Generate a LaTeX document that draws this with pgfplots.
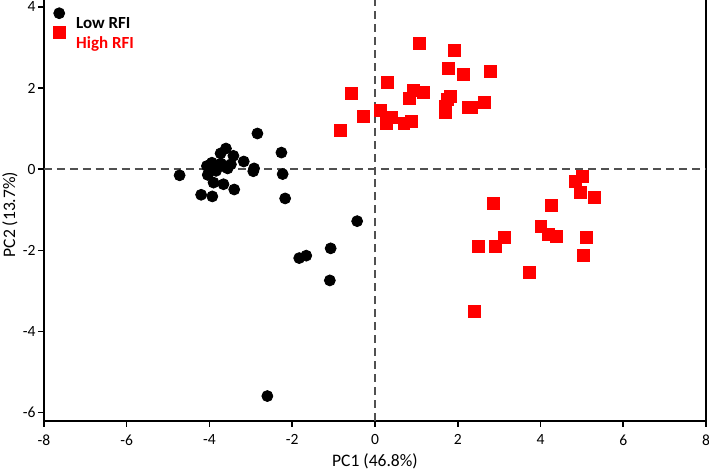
\documentclass[border=0pt]{standalone}
\usepackage{pgfplots}
\pgfplotsset{compat=1.18}
\usepackage{fontspec}
\setmainfont{Carlito}
\usetikzlibrary{calc}
\definecolor{myred}{RGB}{255,0,0}
\definecolor{dashgray}{RGB}{80,80,80}
\begin{document}
\begin{tikzpicture}
\begin{axis}[
  name=ax,
  scale only axis,
  width=332pt, height=211pt,
  xmin=-8, xmax=8, ymin=-6.2, ymax=4.17,
  axis x line=bottom, axis y line=box,
  axis line style={line width=1pt, black, -},
  xtick={-8,-6,...,8}, ytick={-6,-4,...,4},
  ytick pos=left,
  tick align=outside,
  major tick length=3pt,
  tick style={line width=0.8pt, black},
  /pgf/number format/assume math mode=true,
  tick label style={font=\fontsize{7.8}{9}\selectfont},
  yticklabel style={inner xsep=1pt},
  xticklabel style={yshift=-0.5pt},
  label style={font=\fontsize{8.8}{10}\selectfont},
  xlabel={PC1 (46.8\%)}, ylabel={PC2 (13.7\%)},
  xlabel style={at={(axis description cs:0.5,-0.097)}, anchor=center},
  ylabel style={at={(axis description cs:-0.0512,0.49)}, anchor=center},
  legend style={at={(0.006,0.979)}, anchor=north west, draw=none, fill=none,
    font=\fontsize{8.5}{10}\selectfont\bfseries, row sep=-1.5pt, inner sep=2pt,
    /tikz/column 1/.style={column sep=4pt}},
  legend image code/.code={
    \path[draw=none, fill=none] (0pt,-2pt) rectangle (6pt,2pt);
    \draw[#1, overlay] plot coordinates {(3.5pt,5.5pt)};
  },
  legend cell align=left,
  clip=false,
]
\addplot[only marks, mark=*, mark size=2.75pt, black] coordinates {
(-4.72,-0.15) (-2.84,0.88) (-3.60,0.51) (-3.73,0.39) (-3.42,0.33) (-3.17,0.19)
(-3.94,0.16) (-4.06,0.08) (-3.72,0.14) (-3.48,0.12) (-3.56,0.02) (-3.84,-0.04)
(-4.04,-0.14) (-3.62,0.06) (-2.92,0.02) (-2.94,-0.05) (-2.26,0.41) (-2.23,-0.12)
(-3.90,-0.33) (-3.66,-0.37) (-3.40,-0.50) (-4.20,-0.63) (-3.93,-0.67) (-2.17,-0.72)
(-0.43,-1.28) (-1.07,-1.95) (-1.66,-2.13) (-1.83,-2.19) (-1.09,-2.74) (-2.60,-5.59)
};
\addlegendentry{Low RFI}
\addplot[only marks, mark=square*, mark size=3pt, myred] coordinates {
(1.08,3.11) (1.93,2.92) (1.78,2.48) (2.14,2.34) (2.78,2.41) (0.30,2.13)
(-0.56,1.87) (0.92,1.95) (1.16,1.90) (0.84,1.75) (1.83,1.80) (1.74,1.72)
(2.64,1.64) (2.25,1.53) (2.34,1.53) (1.70,1.54) (1.70,1.39) (-0.27,1.31)
(0.14,1.46) (0.40,1.28) (0.27,1.13) (0.70,1.13) (0.87,1.17) (-0.83,0.95)
(5.02,-0.18) (4.84,-0.29) (4.97,-0.58) (5.31,-0.70) (4.27,-0.88) (4.01,-1.42)
(4.18,-1.61) (4.38,-1.65) (5.11,-1.69) (5.04,-2.12) (3.74,-2.55)
(2.87,-0.84) (3.12,-1.69) (2.51,-1.91) (2.91,-1.91) (2.41,-3.51)
};
\addlegendentry{\textcolor{myred}{High RFI}}
\addplot[forget plot, dashgray, line width=0.9pt, dash pattern=on 4pt off 2.5pt] coordinates {(-8,0) (8,0)};
\addplot[forget plot, dashgray, line width=0.9pt, dash pattern=on 4pt off 2.5pt] coordinates {(0,-6.2) (0,4.17)};
\draw[gray, line width=0.5pt] (rel axis cs:0,1) -- (rel axis cs:1,1);
\coordinate (ll) at (rel axis cs:0,0);
\coordinate (ur) at (rel axis cs:1,1);
\end{axis}
\pgfresetboundingbox
\path ($(ll)+(-22pt,-26pt)$) rectangle ($(ur)+(1.5pt,0pt)$);
\end{tikzpicture}
\end{document}
